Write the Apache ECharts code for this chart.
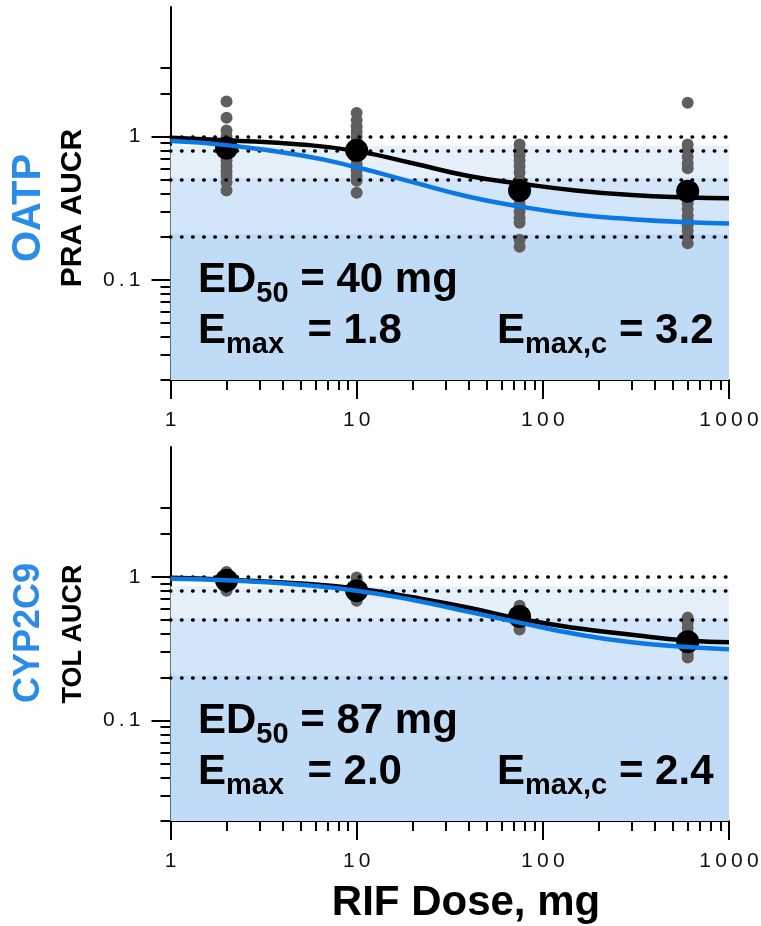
<!DOCTYPE html>
<html>
<head>
<meta charset="utf-8">
<style>
  html, body { margin: 0; padding: 0; background: #fff; }
  #chart { width: 761px; height: 926px; }
</style>
<script src="https://cdn.jsdelivr.net/npm/echarts@6/dist/echarts.min.js"></script>
</head>
<body>
<div id="chart"></div>
<script>
// dose grid used for the fitted curves (mg)
const fitDoses = [1, 2, 5, 10, 20, 40, 75, 150, 300, 600, 1000];
const studyDoses = [2, 10, 75, 600];

// OATP / pravastatin AUCR
const oatpFit = [0.98, 0.94, 0.88, 0.79, 0.65, 0.53, 0.47, 0.42, 0.39, 0.375, 0.37];
const oatpFitC = [0.93, 0.87, 0.74, 0.61, 0.48, 0.38, 0.325, 0.285, 0.265, 0.252, 0.247];
const oatpMeans = [0.83, 0.80, 0.42, 0.415];
const oatpAt2 = [1.75, 1.35, 1.10, 1.0, 0.93, 0.87, 0.81, 0.75, 0.68, 0.62, 0.57, 0.53, 0.48, 0.42];
const oatpAt10 = [1.46, 1.30, 1.18, 1.08, 1.0, 0.92, 0.84, 0.76, 0.70, 0.64, 0.58, 0.53, 0.49, 0.405];
const oatpAt75 = [0.88, 0.80, 0.74, 0.68, 0.62, 0.56, 0.50, 0.44, 0.38, 0.34, 0.30, 0.27, 0.25, 0.19, 0.17];
const oatpAt600 = [1.72, 0.88, 0.80, 0.72, 0.65, 0.60, 0.45, 0.38, 0.34, 0.31, 0.28, 0.26, 0.24, 0.22, 0.20, 0.18];

// CYP2C9 / tolbutamide AUCR
const cypFit = [0.985, 0.955, 0.90, 0.83, 0.72, 0.61, 0.51, 0.44, 0.395, 0.36, 0.35];
const cypFitC = [0.97, 0.945, 0.88, 0.80, 0.69, 0.57, 0.48, 0.40, 0.35, 0.325, 0.313];
const cypMeans = [0.945, 0.80, 0.53, 0.354];
const cypAt2 = [1.08, 1.03, 0.99, 0.95, 0.91, 0.86, 0.80];
const cypAt10 = [0.99, 0.93, 0.87, 0.81, 0.76, 0.71, 0.68];
const cypAt75 = [0.63, 0.58, 0.54, 0.50, 0.46, 0.43];
const cypAt600 = [0.52, 0.48, 0.44, 0.40, 0.37, 0.34, 0.31, 0.29, 0.275];

// background bands and dotted reference levels
const bandEdges = [0.02, 0.209, 0.52, 0.86];
const bandColors = ['#c0dbf5', '#d3e5f8', '#e6f0fb'];
const refLevels = [1, 0.8, 0.5, 0.2];

// axis ticks
const xMajor = [1, 10, 100, 1000];
const xMinor = [2, 3, 4, 5, 6, 7, 8, 9, 20, 30, 40, 50, 60, 70, 80, 90, 200, 300, 400, 500, 600, 700, 800, 900];
const yMajor = [0.1, 1];
const yMinor = [0.02, 0.03, 0.04, 0.05, 0.06, 0.07, 0.08, 0.09, 0.2, 0.3, 0.4, 0.5, 0.6, 0.7, 0.8, 0.9, 2, 3];

const FONT = '"Liberation Sans", Arial, sans-serif';
const BLUE = '#0a78e6';

const spaced = v => String(+(+v).toPrecision(3)).split('').join('\u2009');

const panels = [
  { top: 7, height: 373, fit: oatpFit, fitC: oatpFitC, means: oatpMeans,
    points: [oatpAt2, oatpAt10, oatpAt75, oatpAt600] },
  { top: 447, height: 374, fit: cypFit, fitC: cypFitC, means: cypMeans,
    points: [cypAt2, cypAt10, cypAt75, cypAt600] }
];

const axisLineStyle = { color: '#000', width: 2 };

const grid = [], xAxis = [], yAxis = [], series = [];

panels.forEach((p, i) => {
  grid.push({ left: 170.5, width: 558.5, top: p.top, height: p.height, outerBoundsMode: 'none' });

  xAxis.push({
    type: 'log', logBase: 10, gridIndex: i, min: 1, max: 1000, position: 'bottom',
    axisLine: { show: true, onZero: false, lineStyle: axisLineStyle },
    axisTick: { show: true, length: 19, customValues: xMajor, lineStyle: axisLineStyle },
    axisLabel: { show: true, customValues: xMajor, margin: 30, fontSize: 21, fontFamily: FONT,
                 color: '#111', formatter: spaced },
    splitLine: { show: false }
  }, {
    type: 'log', logBase: 10, gridIndex: i, min: 1, max: 1000, position: 'bottom',
    axisLine: { show: false },
    axisTick: { show: true, length: 10, customValues: xMinor, lineStyle: axisLineStyle },
    axisLabel: { show: false },
    splitLine: { show: false }
  });

  yAxis.push({
    type: 'log', logBase: 10, gridIndex: i, min: 0.02, max: 8, position: 'left',
    axisLine: { show: true, onZero: false, lineStyle: axisLineStyle },
    axisTick: { show: true, length: 19, customValues: yMajor, lineStyle: axisLineStyle },
    axisLabel: { show: true, customValues: yMajor, margin: 30, fontSize: 21, fontFamily: FONT,
                 color: '#111', formatter: spaced },
    splitLine: { show: false }
  }, {
    type: 'log', logBase: 10, gridIndex: i, min: 0.02, max: 8, position: 'left',
    axisLine: { show: false },
    axisTick: { show: true, length: 10, customValues: yMinor, lineStyle: axisLineStyle },
    axisLabel: { show: false },
    splitLine: { show: false }
  });

  const xi = 2 * i, yi = 2 * i;
  const bands = bandColors.map((c, k) => [
    { yAxis: bandEdges[k], itemStyle: { color: c } },
    { yAxis: bandEdges[k + 1] }
  ]);

  series.push({
    type: 'line', xAxisIndex: xi, yAxisIndex: yi, data: [], z: 1, silent: true,
    markArea: { silent: true, data: bands },
    markLine: {
      silent: true, symbol: 'none', label: { show: false },
      lineStyle: { color: '#000', width: 3.5, type: [0.5, 10.6], cap: 'round', dashOffset: -11 },
      emphasis: { disabled: true },
      data: refLevels.map(v => ({ yAxis: v }))
    }
  });

  const dots = [];
  p.points.forEach((vals, k) => vals.forEach(v => dots.push([studyDoses[k], v])));
  series.push({
    type: 'scatter', xAxisIndex: xi, yAxisIndex: yi, z: 2, symbolSize: 12,
    itemStyle: { color: '#5f5f5f', opacity: 1 }, data: dots
  });
  series.push({
    type: 'scatter', xAxisIndex: xi, yAxisIndex: yi, z: 3, symbolSize: 23,
    itemStyle: { color: '#000', opacity: 1 },
    data: studyDoses.map((d, k) => [d, p.means[k]])
  });
  series.push({
    type: 'line', xAxisIndex: xi, yAxisIndex: yi, z: 4, smooth: true, showSymbol: false,
    lineStyle: { color: '#000', width: 4.5 },
    data: fitDoses.map((d, k) => [d, p.fit[k]])
  });
  series.push({
    type: 'line', xAxisIndex: xi, yAxisIndex: yi, z: 5, smooth: true, showSymbol: false,
    lineStyle: { color: BLUE, width: 4.5 },
    data: fitDoses.map((d, k) => [d, p.fitC[k]])
  });
});

const rich = {
  b: { fontSize: 42, fontWeight: 'bold', fontFamily: FONT, fill: '#000' },
  s: { fontSize: 29, fontWeight: 'bold', fontFamily: FONT, fill: '#000', padding: [27, 0, 0, 0] }
};
const stat = (x, y, text) => ({
  type: 'text', x: x, y: y, z: 20,
  style: { text: text, rich: rich, verticalAlign: 'middle', align: 'left' }
});
const vtitle = (x, y, text, size, color) => ({
  type: 'text', x: x, y: y, rotation: Math.PI / 2, z: 20,
  style: { text: text, font: 'bold ' + size + 'px ' + FONT, fill: color,
           align: 'center', verticalAlign: 'middle' }
});

const graphic = [
  vtitle(29, 208, 'OATP', 40, '#2a8be8'),
  vtitle(73, 208, 'PRA AUCR', 30, '#000'),
  vtitle(29, 633, 'CYP2C9', 36, '#2a8be8'),
  vtitle(74, 634, 'TOL AUCR', 27, '#000'),
  stat(198, 280, '{b|ED}{s|50}{b| = 40 mg}'),
  stat(198, 331, '{b|E}{s|max}{b|  = 1.8}'),
  stat(497, 331, '{b|E}{s|max,c}{b| = 3.2}'),
  stat(198, 721, '{b|ED}{s|50}{b| = 87 mg}'),
  stat(198, 772, '{b|E}{s|max}{b|  = 2.0}'),
  stat(497, 772, '{b|E}{s|max,c}{b| = 2.4}'),
  {
    type: 'text', x: 466, y: 903, z: 20,
    style: { text: 'RIF Dose, mg', font: 'bold 42px ' + FONT, fill: '#000',
             align: 'center', verticalAlign: 'middle' }
  }
];

const chart = echarts.init(document.getElementById('chart'));
chart.setOption({
  animation: false,
  backgroundColor: '#fff',
  grid: grid,
  xAxis: xAxis,
  yAxis: yAxis,
  series: series,
  graphic: graphic
});
</script>
</body>
</html>
